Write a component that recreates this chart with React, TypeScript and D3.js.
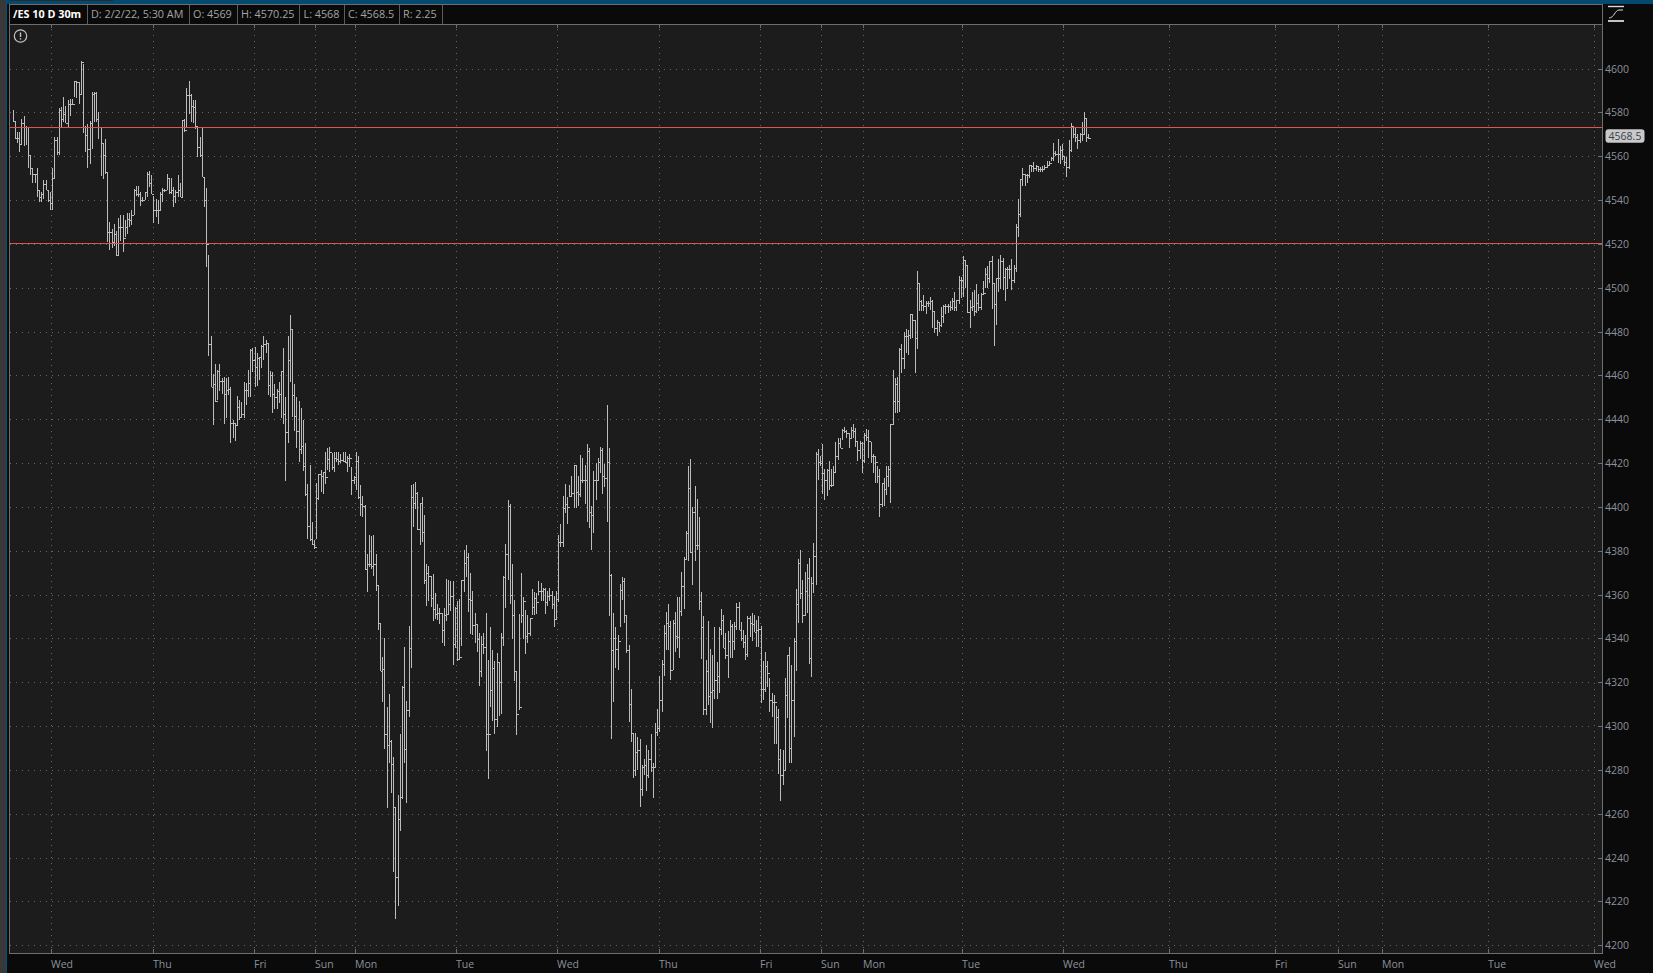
import React from 'react';
import * as d3 from 'd3';

// /ES 10 D 30m, one value per bar
const highs = [
  4581,4576,4571,4571,4577,4578.5,4574,4573.5,4560.5,4554.5,
  4552,4554.5,4544.5,4543.5,4549,4549,4544.5,4543.5,4554.5,4569,
  4569,4582,4582.5,4587,4583,4585.5,4586,4586,4594.5,4594,
  4594,4603.5,4602,4574,4574.5,4576,4589.5,4589.5,4589.5,4580,
  4573.5,4566,4568,4553,4530,4527,4529,4526,4532,4533,
  4533,4531,4534,4534,4535.5,4545,4546.5,4546.5,4543.5,4541.5,
  4543.5,4553,4553.5,4551.5,4542,4540.5,4540,4543.5,4545.5,4545,
  4552,4550,4550,4546,4544.5,4551.5,4548,4576.5,4577,4591,
  4594.5,4588.5,4585.5,4585.5,4574,4569,4573,4550.5,4545.5,4515,
  4478,4460.5,4465,4462.5,4465,4459,4459.5,4459,4459.5,4454.5,
  4439.5,4438.5,4450.5,4449,4448,4457,4456.5,4462.5,4472,4472.5,
  4473,4470,4468.5,4474,4478,4476,4475,4462,4461.5,4456,
  4454,4457,4462,4472.5,4450,4478,4487.5,4481,4456,4450,
  4448.5,4445,4439.5,4429,4410.5,4419,4393,4385,4411,4415,
  4417,4416,4425,4427,4427.5,4424.5,4425,4425,4425,4424,
  4425,4425,4423,4424,4418,4414,4425,4423,
  4410,4405,4401,4378.5,4387,4386.5,4387,4378.5,4364.5,4347,
  4331.5,4340,4308.5,4314.5,4293.5,4286,4263,4268.5,4296.5,4318.5,
  4336,4311.5,4345.5,4410,4410.5,4411.5,4407,4402,4404.5,4396.5,
  4374,4373,4368.5,4369.5,4360.5,4355.5,4354,4351.5,4354,4367,
  4366.5,4366,4366,4354.5,4357,4358,4366.5,4380.5,4382.5,4379,
  4370,4361.5,4351.5,4346.5,4342.5,4341,4342.5,4351.5,4330,4345,
  4334.5,4329.5,4333.5,4329,4342.5,4368.5,4383,4403,4401.5,4374,
  4357.5,4325,4351,4370,4359,4353,4350.5,4349.5,4362.5,4361,
  4360.5,4366,4365.5,4363,4363,4361.5,4363,4361.5,4359.5,4361.5,
  4387,4392,4405,4410.5,4404.5,4410,4414,4419,4419,4414,
  4423.5,4422.5,4419,4428.5,4427,4400.5,4416.5,4420,4422.5,
  4427.5,4427,4419.5,4446.5,4427,4369.5,4351.5,4345,4341.5,4365,
  4368,4367.5,4350.5,4337,4317,4297,4297,4295,4294,4282,
  4285,4291.5,4289,4296.5,4283,4301.5,4308,4323,4330,4346,
  4352,4355.5,4348,4348.5,4352,4359,4359,4370.5,4377,4389,
  4418.5,4422,4400,4409.5,4403.5,4395.5,4361,4350,4330,4348,
  4335,4332.5,4345,4329,4345,4353.5,4350.5,4342.5,4343.5,4348.5,
  4346.5,4347.5,4356,4356.5,4347.5,4344,4341.5,4350,4350,4351.5,
  4350.5,4348.5,4350,4345.5,4329.5,4334,4329.5,4322,4315,4314,
  4309,4308,4289.5,4289,4322,4332.5,4336,4328,4340,4362.5,
  4376,4380.5,4366.5,4370.5,4374,4376.5,4368,4383.5,4425,4426.5,
  4423,4428.5,4417.5,4417.5,4421,4417.5,4418.5,4429.5,4431.5,4431.5,
  4435.5,4436.5,4435,4433.5,4436.5,4438,4436,4430,4430,4429.5,
  4433.5,4435.5,4435,4429.5,4424,4423,4418.5,4417.5,4411,4413,
  4418.5,4418.5,
  4438,4462.5,
  4459,4459.5,4472.5,4474.5,4480,
  4481,4480.5,4488,4488,4485.5,
  4507.5,4502,4494.5,4496.5,4494,
  4494,4496,4494.5,4489.5,4485.5,
  4484.5,4491,4492,4492.5,4492.5,
  4494,4495.5,4498,4494.5,4505.5,
  4505,4514.5,4512.5,4510.5,4494.5,
  4498,4499,4501.5,4497,4497.5,
  4503,4509,4510,4512,4514.5,
  4502,4504.5,4513,4515,4513.5,
  4509,4509.5,4510.5,4513,4510.5,
  4529,4540.5,4549.5,4554.5,4552,
  4552,4556,4556,4557.5,4556,
  4555.5,4555,4555.5,4556,4558,
  4558,4559.5,4566,4562.5,4568,
  4564.5,4565.5,4560,4559.5,4567.5,
  4575,4574,4573.5,4570,4570.5,
  4575.5,4580,4577.5,4570.25,
];

const lows = [
  4575.5,4568,4566,4562,4565,4564.5,4565,4554.5,4551.5,4548,
  4548,4541.5,4539,4539,4540.5,4544.5,4539,4535.5,4535.5,4550,
  4560.5,4560.5,4573.5,4575.5,4575,4573.5,4578.5,4583.5,4587,4586.5,
  4584,4588.5,4570.5,4562,4554.5,4556.5,4563.5,4575.5,4575.5,4568,
  4551,4549.5,4552,4521,4517,4518,4519,4514.5,4515,4521.5,
  4516.5,4523,4524.5,4527.5,4528.5,4533,4542,4541.5,4537.5,4539,
  4540,4541.5,4546,4543,4529.5,4532.5,4529,4535.5,4539,4543.5,
  4544.5,4543,4543,4537,4538.5,4541.5,4541.5,4541.5,4571,4573.5,
  4579.5,4575.5,4575,4572.5,4559.5,4559.5,4550.5,4537,4509.5,4469,
  4454.5,4437.5,4448,4449,4453,4451.5,4438,4440.5,4451,4429,
  4431.5,4430,4437.5,4439.5,4441,4440.5,4446.5,4450,4450,4461.5,
  4454.5,4455,4458,4463.5,4467,4470,4451,4450,4443,4444.5,
  4444.5,4447.5,4440.5,4438,4412,4429,4457,4441,4434.5,4427,
  4420.5,4424,4416.5,4405,4385.5,4384.5,4382.5,4381,4385.5,4403,
  4407,4406,4410.5,4417,4416,4417,4416,4420.5,4419,4420,
  4420.5,4420,4416,4418,4405.5,4410.5,4407.5,4403.5,
  4396,4395.5,4371,4361,4372.5,4371.5,4368.5,4361.5,4344,4325,
  4311,4289.5,4262.5,4283,4269.5,4233.5,4212,4218,4252,4266.5,
  4283,4265,4304,4326.5,4391,4399,4389.5,4382.5,4384,4365,
  4355,4357,4354.5,4348,4349,4348.5,4346.5,4338,4336.5,4348,
  4351,4352.5,4328,4335.5,4329.5,4330,4336.5,4361,4368,4352,
  4342,4341.5,4338,4334,4318.5,4322.5,4333,4288.5,4276,4308.5,
  4302.5,4296.5,4299.5,4304.5,4305.5,4336.5,4354,4366.5,4355.5,4339.5,
  4320.5,4296,4307.5,4347,4339.5,4333,4338,4341,4350.5,4350.5,
  4351,4360,4357,4357,4351,4355,4357,4353.5,4345,4349,
  4356.5,4381.5,4381.5,4397,4392,4404.5,4405,4399.5,4399.5,4400.5,
  4404.5,4411,4401.5,4393,4390.5,4380.5,4388,4403,4412.5,
  4415.5,4406,4409,4393,4350,4294,4311,4326.5,4325.5,4345,
  4357.5,4347,4333.5,4302,4292.5,4276.5,4277,4280,4263,4268,
  4277.5,4270.5,4276.5,4279,4267,4281,4295.5,4297.5,4306.5,4323,
  4334.5,4334.5,4321,4325.5,4334,4335.5,4331,4350,4353.5,4376,
  4375.5,4379,4364.5,4375.5,4380.5,4353,4330.5,4305,4305,4309.5,
  4301.5,4299,4312.5,4312.5,4315,4341.5,4335.5,4330.5,4322,4331,
  4331,4334.5,4344,4344,4339,4335.5,4330,4331.5,4340.5,4339,
  4343,4336,4336,4310.5,4312,4315.5,4318,4306.5,4304,4292,
  4292,4278,4266,4273,4280,4303.5,4283,4283,4295,4325,
  4347,4358,4347,4350,4351.5,4328.5,4322.5,4360.5,4364.5,4412.5,
  4418.5,4406,4403,4405,4407.5,4409,4409.5,4415.5,4421.5,4427,
  4430.5,4433.5,4431.5,4427,4431.5,4431.5,4427.5,4421,4422,4415.5,
  4420,4430,4422.5,4420,4415.5,4411,4411,4395.5,4400,4400.5,
  4405.5,4409,
  4402,4437.5,
  4443,4443,4443.5,4461,4463,
  4470,4469.5,4476.5,4477,4461,
  4472,4489.5,4489.5,4489.5,4488,
  4491,4490,4481.5,4479.5,4478,
  4480,4482,4484,4488,4488.5,
  4489.5,4490,4489.5,4489.5,4492.5,
  4495.5,4496,4500,4488.5,4481.5,
  4489.5,4487,4488.5,4489.5,4490,
  4497,4500,4500,4502,4490.5,
  4473.5,4483,4498,4499.5,4499,
  4494,4499.5,4504,4499,4502,
  4507,4523,4532.5,4546.5,4546.5,
  4548,4550,4553,4553,4553.5,
  4553,4553,4553,4554,4554.5,
  4555.5,4558,4558,4560,4557,
  4556.5,4558.5,4555.5,4550.5,4554,
  4562,4568.5,4566.5,4563.5,4566,
  4567,4570,4566.5,4568,
];

const closes = [
  4576,4568.5,4568.5,4565.5,4575,4573.5,4573.5,4560.5,4554.5,4552,
  4552,4544.5,4541.5,4543,4547.5,4544.5,4540,4538.5,4550,4567.5,
  4562,4581,4577,4579.5,4575,4584,4584,4584,4594.5,4594,
  4588.5,4603,4573.5,4569.5,4563.5,4575,4588.5,4589,4577,4573.5,
  4566,4560.5,4553,4525.5,4525.5,4521,4524.5,4515,4527.5,4527.5,
  4522.5,4527.5,4531.5,4531,4533,4544.5,4543,4543,4540,4540,
  4543.5,4552,4548,4543,4535.5,4535.5,4535.5,4543,4544.5,4544.5,
  4550,4543.5,4544.5,4542,4543.5,4544.5,4541.5,4576.5,4572,4588,
  4588,4583,4582.5,4574,4564,4560.5,4550.5,4540,4520,4474.5,
  4454.5,4456,4448.5,4462,4457.5,4457.5,4451.5,4453.5,4454,4438.5,
  4438.5,4437.5,4445.5,4441,4442.5,4453.5,4453.5,4456.5,4471.5,4467,
  4464,4468,4468.5,4473.5,4474.5,4475,4455.5,4460,4451.5,4450,
  4453,4451.5,4462,4442.5,4434,4467,4481,4451,4441.5,4434.5,
  4426.5,4428,4418.5,4406,4391.5,4385.5,4383,4381.5,4404,4415,
  4414,4416,4413.5,4422,4425,4418,4422.5,4422,4421,4421.5,
  4421,4420.5,4422.5,4422.5,4412.5,4413.5,4421,4404.5,
  4401.5,4400.5,4371.5,4374,4374,4373,4374,4364.5,4347,4325,
  4326,4296.5,4291.5,4293,4282.5,4263,4231,4257.5,4267.5,4318,
  4289.5,4307.5,4335.5,4404.5,4402,4406.5,4390,4402,4388.5,4366.5,
  4370,4368.5,4358.5,4353.5,4351,4351.5,4351.5,4344,4350.5,4351,
  4355.5,4359.5,4337.5,4354,4330.5,4331.5,4366.5,4374.5,4377,4358,
  4357.5,4346,4346.5,4339.5,4325,4337.5,4336,4296.5,4296.5,4316.5,
  4326.5,4303,4329,4320,4340.5,4368,4378.5,4400.5,4360,4350.5,
  4325,4305.5,4308.5,4350.5,4357,4341,4342.5,4349.5,4354.5,4358.5,
  4356.5,4361.5,4361.5,4362.5,4356.5,4359.5,4360,4355.5,4349,4358,
  4384,4384,4399.5,4401.5,4400,4405,4406.5,4419,4407,4406,
  4412.5,4412.5,4412.5,4425.5,4397.5,4396.5,4412.5,4412.5,4420.5,
  4426,4414,4413,4420.5,4369,4334.5,4340,4335,4339,4362,
  4366,4350.5,4334.5,4310,4297,4280,4288,4289,4271.5,4281.5,
  4282,4277.5,4285,4281.5,4281.5,4297.5,4299,4312,4328.5,4342.5,
  4347,4345.5,4325.5,4347,4341,4340.5,4352.5,4364,4376,4388,
  4408.5,4379.5,4397.5,4382.5,4382.5,4357,4345,4308,4325,4313.5,
  4315.5,4316.5,4321,4323,4344.5,4348.5,4335.5,4332.5,4339,4345.5,
  4339,4345.5,4354.5,4344,4340,4338.5,4333,4349.5,4347,4346.5,
  4343,4344,4344.5,4317,4317,4327.5,4324,4312,4311,4311,
  4304,4285,4277.5,4280,4314,4332.5,4290,4312,4339,4355.5,
  4374.5,4360.5,4350.5,4361.5,4367.5,4331,4365.5,4377.5,4424,4420.5,
  4420,4415.5,4412.5,4417,4410,4410,4416,4423,4429,4427,
  4435,4434.5,4433.5,4431.5,4435,4434.5,4430,4426,4429,4421.5,
  4433,4432,4430,4423,4423,4420.5,4414,4401.5,4411,4408,
  4414,4417.5,
  4438,4448.5,
  4456,4448.5,4472,4468,4478,
  4478,4478.5,4488,4485.5,4477,
  4502,4494,4492,4491.5,4493,
  4493,4494,4489.5,4481.5,4484.5,
  4483,4487,4491.5,4491.5,4491.5,
  4491,4494,4491,4494.5,4503.5,
  4503.5,4512.5,4510.5,4489,4491,
  4491.5,4489.5,4493,4491,4497,
  4497.5,4506.5,4504.5,4512,4502,
  4492.5,4504.5,4504.5,4512,4505,
  4508.5,4508.5,4508.5,4503.5,4509,
  4527.5,4533.5,4549.5,4552,4551.5,
  4551.5,4556,4555.5,4554.5,4555.5,
  4554,4554,4554,4555,4556,
  4557,4559,4561.5,4561,4561,
  4563,4560,4557.5,4555,4563,
  4574,4570,4569,4567.5,4570,
  4570,4577.5,4569,4568.5,
];

const dayLabels = ['Wed','Thu','Fri','Sun','Mon','Tue','Wed','Thu','Fri','Sun','Mon','Tue','Wed','Thu','Fri','Sun','Mon','Tue','Wed'];
const dayBars = [18,64,110,138,156,202,248,294,340,368,387,432,478,526,574,603,623,671,719];
const priceTicks = d3.range(4200, 4601, 20);
const levels = [4573.25, 4520.25];
const lastPrice = '4568.5';
const headerCells = ['/ES 10 D 30m','D: 2/2/22, 5:30 AM','O: 4569','H: 4570.25','L: 4568','C: 4568.5','R: 2.25'];

const W = 1653;
const H = 973;
const FONT = '"Open Sans", "Noto Sans", sans-serif';

export default function App() {
  const svgRef = React.useRef<SVGSVGElement | null>(null);

  React.useEffect(() => {
    const svg = d3.select(svgRef.current);
    svg.selectAll('*').remove();
    svg.attr('font-family', FONT);

    const plot = { left: 9, right: 1602, top: 24, bottom: 953 };

    const x = d3.scaleLinear().domain([0, 489]).range([12.6, 1088.4]);
    const y = d3.scaleLinear().domain([4200, 4600]).range([945.2, 68.6]);
    const px = (n: number) => Math.round(n) + 0.5;
    const tickX = (i: number) => px(x(i) - 0.8);

    // window chrome
    svg.append('rect').attr('width', W).attr('height', H).attr('fill', '#0a0a0a');
    svg.append('rect').attr('x', 0).attr('width', 6).attr('height', H).attr('fill', '#383838');
    svg.append('rect').attr('x', 6).attr('width', 1).attr('height', H).attr('fill', '#00507e');
    svg.append('rect').attr('x', 7).attr('y', 0).attr('width', W - 7).attr('height', 4).attr('fill', '#044a70');
    svg.append('rect').attr('x', 10).attr('y', 0).attr('width', 103).attr('height', 1).attr('fill', '#2a2a2a');
    svg.append('rect').attr('x', plot.left).attr('y', plot.top).attr('width', plot.right - plot.left).attr('height', plot.bottom - plot.top).attr('fill', '#1c1c1c');

    // dotted grid
    const grid = svg.append('g').attr('stroke', '#666666').attr('stroke-dasharray', '1,5');
    grid.selectAll('line.h').data(priceTicks).join('line')
      .attr('class', 'h')
      .attr('x1', plot.left + 1).attr('x2', plot.right - 12)
      .attr('y1', d => px(y(d))).attr('y2', d => px(y(d)));
    grid.selectAll('line.v').data(dayBars).join('line')
      .attr('class', 'v')
      .attr('x1', d => tickX(d)).attr('x2', d => tickX(d))
      .attr('y1', plot.top + 5).attr('y2', plot.bottom - 5);

    // top ticks on the day lines
    svg.append('g').attr('stroke', '#6a6a6a')
      .selectAll('line').data(dayBars).join('line')
      .attr('x1', d => tickX(d)).attr('x2', d => tickX(d))
      .attr('y1', plot.top).attr('y2', plot.top + 4);

    // bars
    const idx = d3.range(highs.length);
    const bars = svg.append('g').attr('stroke', '#bcbcbc').attr('shape-rendering', 'crispEdges');
    bars.selectAll('line.range').data(idx).join('line')
      .attr('class', 'range')
      .attr('x1', d => px(x(d))).attr('x2', d => px(x(d)))
      .attr('y1', d => Math.round(y(highs[d]))).attr('y2', d => Math.round(y(lows[d])));
    bars.selectAll('line.close').data(idx).join('line')
      .attr('class', 'close')
      .attr('x1', d => px(x(d))).attr('x2', d => px(x(d)) + 2)
      .attr('y1', d => px(y(closes[d]))).attr('y2', d => px(y(closes[d])));

    // red levels
    svg.append('g').attr('stroke', '#e5534f')
      .selectAll('line').data(levels).join('line')
      .attr('x1', plot.left + 1).attr('x2', plot.right)
      .attr('y1', d => px(y(d))).attr('y2', d => px(y(d)));

    // axes
    const styleAxis = (g: any) => {
      g.select('.domain').remove();
      g.selectAll('line').attr('stroke', '#6e6e6e');
      g.selectAll('text').attr('fill', '#8b919c').attr('font-size', 10.5).attr('font-family', FONT);
    };

    const yAxis = d3.axisRight(y).tickValues(priceTicks).tickSize(0).tickPadding(3).tickFormat(d => String(d));
    svg.append('g')
      .attr('transform', `translate(${plot.right},0)`)
      .call(yAxis as any)
      .call(styleAxis)
      .call((g: any) => g.selectAll('line').attr('x1', -4).attr('x2', 0).attr('y1', 0).attr('y2', 0))
      .call((g: any) => g.selectAll('.tick').attr('transform', (d: number) => `translate(0,${px(y(d))})`));

    const bottom = svg.append('g').attr('transform', `translate(0,${plot.bottom})`);
    const xAxis = d3.axisBottom(x).tickValues(dayBars).tickSize(0).tickFormat(() => '');
    bottom.call(xAxis as any).call(styleAxis)
      .call((g: any) => g.selectAll('.tick').attr('transform', (d: number) => `translate(${tickX(d)},0)`))
      .call((g: any) => g.selectAll('line').attr('y1', -4).attr('y2', 0));
    bottom.selectAll('.tick').select('text')
      .attr('x', -0.5).attr('y', 15).attr('dy', 0).attr('text-anchor', 'start')
      .text((d: any) => dayLabels[dayBars.indexOf(d)]);

    // frame
    const frame = svg.append('g').attr('stroke', '#6e6e6e').attr('shape-rendering', 'crispEdges');
    frame.append('line').attr('x1', plot.left + 0.5).attr('x2', plot.left + 0.5).attr('y1', 4).attr('y2', plot.bottom + 1);
    frame.append('line').attr('x1', plot.right + 0.5).attr('x2', plot.right + 0.5).attr('y1', 4).attr('y2', plot.bottom + 1);
    frame.append('line').attr('x1', plot.left).attr('x2', plot.right + 1).attr('y1', plot.bottom + 0.5).attr('y2', plot.bottom + 0.5);
    frame.append('line').attr('x1', plot.left).attr('x2', plot.right).attr('y1', plot.top + 0.5).attr('y2', plot.top + 0.5);
    frame.append('line').attr('x1', plot.left).attr('x2', plot.right + 1).attr('y1', 4.5).attr('y2', 4.5);

    // header cells
    const header = svg.append('g').attr('font-size', 10.8);
    const cellX = [13, 91, 193, 241, 303.5, 348, 403];
    const cellEnds = [87, 189, 237, 299, 344, 399, 442];
    headerCells.forEach((t, i) => {
      header.append('text').attr('x', cellX[i]).attr('y', 18)
        .attr('fill', i === 0 ? '#ffffff' : '#a4a4a4')
        .attr('font-weight', i === 0 ? 700 : 400)
        .text(t);
      header.append('line').attr('x1', cellEnds[i] + 0.5).attr('x2', cellEnds[i] + 0.5)
        .attr('y1', 5).attr('y2', 24).attr('stroke', '#5c5c5c');
    });

    // info icon
    const info = svg.append('g').attr('transform', 'translate(20.5,36)').attr('stroke', '#c4c4c4').attr('fill', 'none');
    info.append('circle').attr('r', 6.2).attr('stroke-width', 1.2);
    info.append('line').attr('y1', -3.5).attr('y2', 1).attr('stroke-width', 1.4);
    info.append('line').attr('y1', 2.2).attr('y2', 3.6).attr('stroke-width', 1.4);

    // last price bubble
    const lastY = y(+lastPrice);
    svg.append('rect').attr('x', 1605.5).attr('y', lastY - 8.5).attr('width', 39).attr('height', 13.5).attr('rx', 3)
      .attr('fill', '#c9c9c9');
    svg.append('text').attr('x', 1625).attr('y', lastY + 2.5).attr('text-anchor', 'middle')
      .attr('font-size', 10.5).attr('fill', '#3a3f4a').text(lastPrice);

    // study icon, top right
    const icon = svg.append('g').attr('stroke', '#d8d8d8').attr('fill', 'none');
    icon.append('line').attr('x1', 1608).attr('x2', 1624).attr('y1', 6.5).attr('y2', 6.5).attr('stroke-width', 1.4);
    icon.append('line').attr('x1', 1608).attr('x2', 1624).attr('y1', 21).attr('y2', 21).attr('stroke-width', 1.8);
    icon.append('path').attr('d', 'M1609,18 C1614,18 1615,10 1619,10 L1623,10').attr('stroke-width', 1);
  }, []);

  return (
    <div style={{ position: 'absolute', left: 0, top: 0 }}>
      <svg ref={svgRef} width={W} height={H} style={{ display: 'block' }} />
    </div>
  );
}
